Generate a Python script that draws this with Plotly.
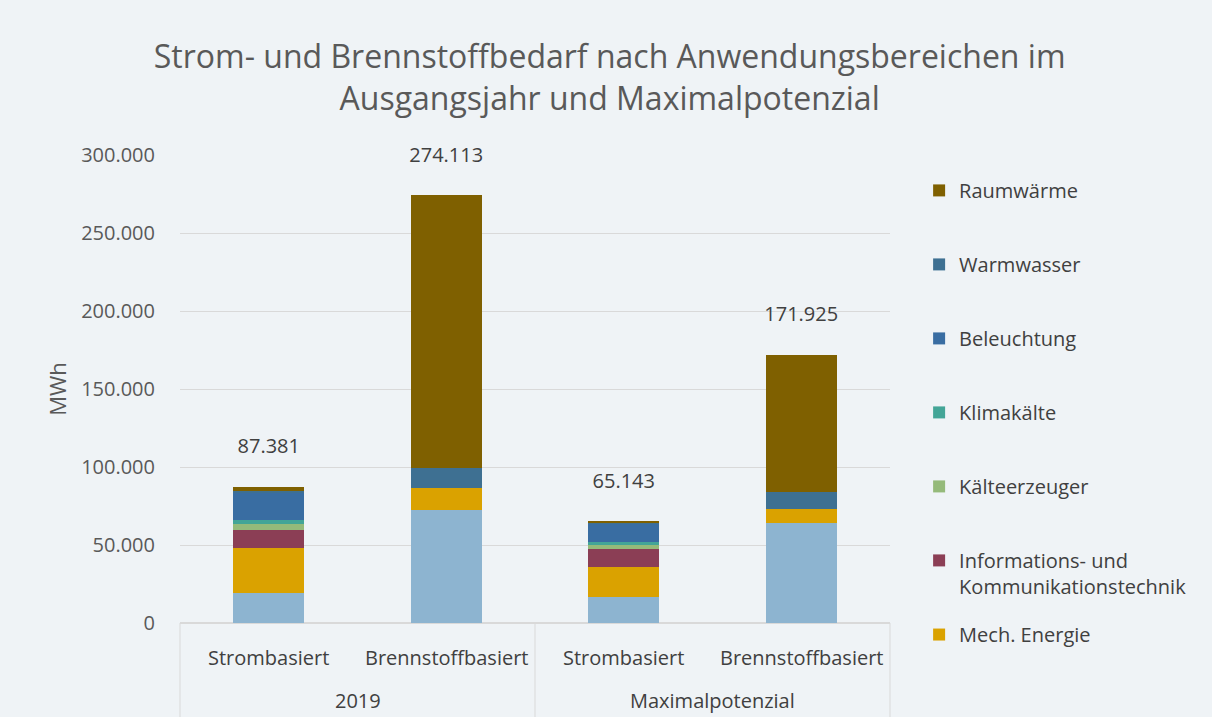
import plotly.graph_objects as go

groups = ["2019", "2019", "Maximalpotenzial", "Maximalpotenzial"]
cats = ["Strombasiert", "Brennstoffbasiert", "Strombasiert", "Brennstoffbasiert"]
group_names = ["2019", "Maximalpotenzial"]

# series (bottom to top)
prozess = [19000, 72400, 16900, 63900]
mech = [29300, 14300, 18800, 9000]
ikt = [11500, 0, 11700, 0]
kaelteerz = [3600, 0, 2600, 0]
klima = [2600, 0, 1900, 0]
beleuchtung = [17400, 0, 11700, 0]
warmwasser = [1300, 12400, 500, 10900]
raumwaerme = [2681, 175013, 1043, 88125]

series = [
    ("Prozesswärme", prozess, "#8DB4D0", False, "legend"),
    ("Mech. Energie", mech, "#DAA200", True, "legend2"),
    ("Informations- und<br>Kommunikationstechnik", ikt, "#8B3E55", True, "legend"),
    ("Kälteerzeuger", kaelteerz, "#95BA7A", True, "legend"),
    ("Klimakälte", klima, "#43A597", True, "legend"),
    ("Beleuchtung", beleuchtung, "#396DA2", True, "legend"),
    ("Warmwasser", warmwasser, "#3E7092", True, "legend"),
    ("Raumwärme", raumwaerme, "#7F6000", True, "legend"),
]

x = [groups, cats]
fig = go.Figure()
n = len(series)
for k, (name, vals, col, show, leg) in enumerate(series):
    fig.add_trace(go.Bar(x=x, y=vals, name=name, marker_color=col,
                         marker_line_width=0, showlegend=show, legend=leg,
                         legendgroup=name, legendrank=n - k))

totals = [sum(s[1][i] for s in series) for i in range(4)]
fig.add_trace(go.Scatter(x=x, y=totals, mode="markers+text", text=totals,
                         texttemplate="%{y:,.0f}", textposition="top center",
                         marker=dict(size=44, opacity=0),
                         textfont=dict(size=20, color="#404040"),
                         showlegend=False, cliponaxis=False, hoverinfo="skip"))

# category labels and divider lines below the plot
ann = []
shapes = []
for i, c in enumerate(cats):
    ann.append(dict(text=c, x=(i + 0.5) / len(cats), xref="paper", y=-0.073, yref="paper",
                    showarrow=False, font=dict(size=20, color="#404040"),
                    xanchor="center", yanchor="middle"))
for j, g in enumerate(group_names):
    ann.append(dict(text=g, x=(j + 0.5) / len(group_names), xref="paper", y=-0.165, yref="paper",
                    showarrow=False, font=dict(size=20, color="#404040"),
                    xanchor="center", yanchor="middle"))
for j in range(len(group_names) + 1):
    xp = j / len(group_names)
    shapes.append(dict(type="line", xref="paper", yref="paper", x0=xp, x1=xp, y0=0, y1=-0.25,
                       line=dict(color="#D9D9D9", width=1)))

legend_style = dict(xanchor="left", yanchor="top", traceorder="grouped", itemwidth=30,
                    font=dict(size=20, color="#404040"), bgcolor="rgba(0,0,0,0)", valign="top")

fig.update_layout(
    barmode="stack", bargap=0.6,
    width=1212, height=717,
    separators=",.",
    paper_bgcolor="#EFF3F6", plot_bgcolor="#EFF3F6",
    font=dict(family="Open Sans", color="#595959", size=18),
    title=dict(text="Strom- und Brennstoffbedarf nach Anwendungsbereichen im<br>Ausgangsjahr und Maximalpotenzial",
               x=0.503, xanchor="center", y=0.905, yanchor="top",
               font=dict(size=32, color="#595959")),
    margin=dict(l=180, r=322, t=155, b=94, autoexpand=False),
    legend=dict(x=1.041, y=0.966, tracegroupgap=45, maxheight=600, **legend_style),
    legend2=dict(x=1.041, y=0.017, **legend_style),
    yaxis=dict(range=[0, 300000], tickvals=[0, 50000, 100000, 150000, 200000, 250000, 300000],
               tickformat=",d", gridcolor="#D9D9D9", zeroline=True, zerolinecolor="#D9D9D9",
               title=dict(text="MWh", font=dict(size=22, color="#595959"), standoff=8),
               tickfont=dict(size=20, color="#595959"), ticks="outside", ticklen=20,
               tickcolor="rgba(0,0,0,0)"),
    xaxis=dict(showticklabels=False, showline=False, showdividers=False),
    annotations=ann, shapes=shapes,
)
fig.write_html("out.html", config={"displayModeBar": False},
               post_script="document.body.style.margin='0';document.body.style.background='#EFF3F6';document.documentElement.style.overflow='hidden';")
